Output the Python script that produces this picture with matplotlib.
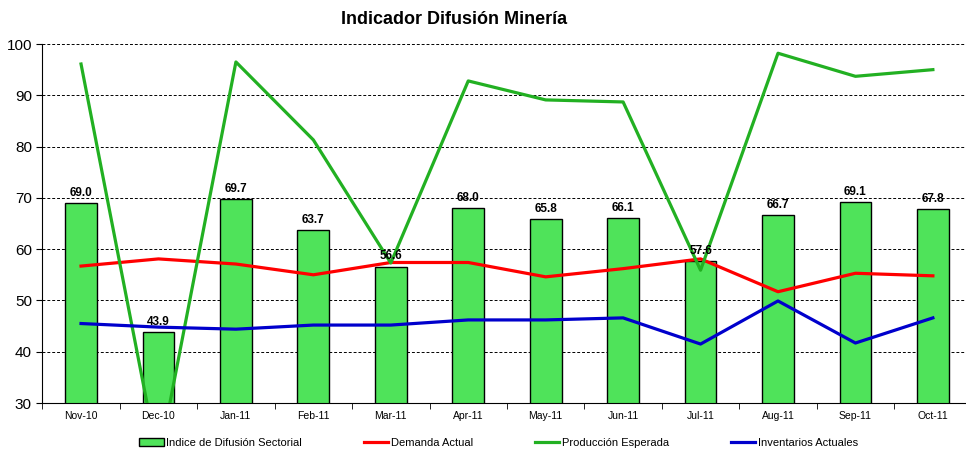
import matplotlib.pyplot as plt
import numpy as np

plt.rcParams['font.family'] = ['Liberation Sans', 'DejaVu Sans']

meses = ["Nov-10", "Dec-10", "Jan-11", "Feb-11", "Mar-11", "Apr-11",
         "May-11", "Jun-11", "Jul-11", "Aug-11", "Sep-11", "Oct-11"]

indice = [69.0, 43.9, 69.7, 63.7, 56.6, 68.0, 65.8, 66.1, 57.6, 66.7, 69.1, 67.8]
demanda = [56.7, 58.1, 57.1, 55.0, 57.4, 57.4, 54.6, 56.2, 58.1, 51.7, 55.3, 54.8]
produccion = [96.1, 18.5, 96.5, 81.3, 57.3, 92.8, 89.1, 88.7, 55.9, 98.2, 93.7, 95.0]
inventarios = [45.5, 44.8, 44.4, 45.2, 45.2, 46.2, 46.2, 46.6, 41.5, 49.9, 41.7, 46.6]

x = np.arange(len(meses))

fig = plt.figure(figsize=(9.66, 4.49), dpi=100)
ax = fig.add_axes([0.0438, 0.1024, 0.962, 0.7996])

bars = ax.bar(x, indice, width=0.41, bottom=0, color="#4fe35a",
              edgecolor="black", linewidth=1, zorder=2,
              label="Indice de Difusión Sectorial")
l1, = ax.plot(x, demanda, color="#ff0000", lw=2.3, zorder=3, label="Demanda Actual")
l2, = ax.plot(x, produccion, color="#22b022", lw=2.3, zorder=3, label="Producción Esperada")
l3, = ax.plot(x, inventarios, color="#0000cc", lw=2.3, zorder=3, label="Inventarios Actuales")

for xi, v in zip(x, indice):
    ax.text(xi, v + 0.8, f"{v:.1f}", ha="center", va="bottom",
            fontsize=8.5, fontweight="bold", zorder=4)

ax.set_ylim(30, 100)
ax.set_xlim(-0.5, len(meses) - 0.5)
ax.set_yticks(range(30, 101, 10))
ax.tick_params(axis="y", labelsize=11, direction="out", length=4)
ax.set_xticks(x)
ax.set_xticklabels(meses, fontsize=7.5)
ax.tick_params(axis="x", length=0, pad=6)
ax.set_xticks(np.arange(-0.5, len(meses), 1), minor=True)
ax.tick_params(axis="x", which="minor", length=4, direction="out")

ax.grid(axis="y", linestyle=(0, (3, 2)), color="black", linewidth=0.7, zorder=1)
ax.set_axisbelow(True)
ax.spines["top"].set_visible(False)
ax.spines["right"].set_visible(False)

fig.suptitle("Indicador Difusión Minería", fontsize=13, fontweight="bold",
             x=0.47, y=0.975)

fig.legend(handles=[bars, l1, l2, l3], loc="center",
           bbox_to_anchor=(0.516, 0.013), ncol=4,
           frameon=False, fontsize=8, handlelength=2.2, handletextpad=0.2,
           columnspacing=5.6)

fig.savefig("out.png", dpi=100)
plt.close()
